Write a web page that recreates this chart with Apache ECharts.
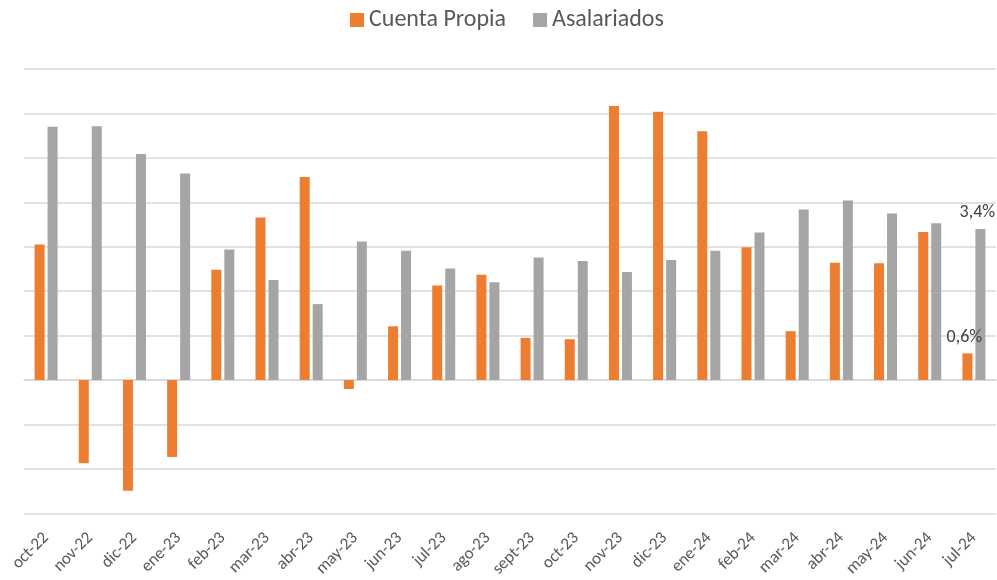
<!DOCTYPE html>
<html>
<head>
<meta charset="utf-8">
<script src="https://cdn.jsdelivr.net/npm/echarts@6/dist/echarts.min.js"></script>
<style>html,body{margin:0;padding:0;background:#fff}#c{width:997px;height:580px}</style>
</head>
<body>
<div id="c"></div>
<script>
const categories = ["oct-22","nov-22","dic-22","ene-23","feb-23","mar-23","abr-23","may-23","jun-23","jul-23","ago-23","sept-23","oct-23","nov-23","dic-23","ene-24","feb-24","mar-24","abr-24","may-24","jun-24","jul-24"];
const cuentaPropia = [3.05,-1.87,-2.49,-1.73,2.48,3.66,4.57,-0.2,1.21,2.13,2.37,0.95,0.92,6.17,6.04,5.6,2.99,1.1,2.64,2.63,3.33,0.6];
const asalariados = [5.7,5.71,5.09,4.65,2.94,2.25,1.71,3.12,2.91,2.51,2.2,2.76,2.68,2.43,2.7,2.91,3.32,3.84,4.04,3.75,3.53,3.4];
const yMin = -3, yMax = 7, yStep = 1;

const FONT = "Carlito, Calibri, 'Noto Sans', sans-serif";
function withLastLabel(arr, offX) {
  return arr.map((v, i) => i === arr.length - 1 ? {
    value: v,
    label: {show: true, position: 'top', distance: 7, offset: [offX, 0],
      formatter: p => p.value.toFixed(1).replace('.', ',') + '%',
      color: '#404040', fontSize: 18, fontFamily: FONT}
  } : v);
}
const chart = echarts.init(document.getElementById('c'));
chart.setOption({
  animation: false,
  textStyle: {fontFamily: FONT},
  legend: {
    top: 3, left: 345, itemWidth: 14, itemHeight: 14, itemGap: 27,
    icon: 'rect',
    textStyle: {fontSize: 24, color: '#595959', fontFamily: FONT},
    data: ['Cuenta Propia', 'Asalariados']
  },
  grid: {left: 24, right: 1, top: 69, bottom: 66, containLabel: false},
  xAxis: {
    type: 'category', data: categories,
    axisLine: {show: true, onZero: true, lineStyle: {color: '#d9d9d9', width: 1.5}},
    axisTick: {show: false},
    axisLabel: {interval: 0, rotate: 45, color: '#595959', fontSize: 17, margin: 22, fontFamily: FONT}
  },
  yAxis: {
    type: 'value', min: yMin, max: yMax, interval: yStep,
    axisLabel: {show: false}, axisLine: {show: false}, axisTick: {show: false},
    splitLine: {lineStyle: {color: '#d9d9d9', width: 1.5}}
  },
  series: [
    {name: 'Cuenta Propia', type: 'bar', data: withLastLabel(cuentaPropia, -3),
      barWidth: 10, barGap: '30%', itemStyle: {color: '#ED7D31'}},
    {name: 'Asalariados', type: 'bar', data: withLastLabel(asalariados, -3),
      barWidth: 10, itemStyle: {color: '#A5A5A5'}}
  ]
});
</script>
</body>
</html>
